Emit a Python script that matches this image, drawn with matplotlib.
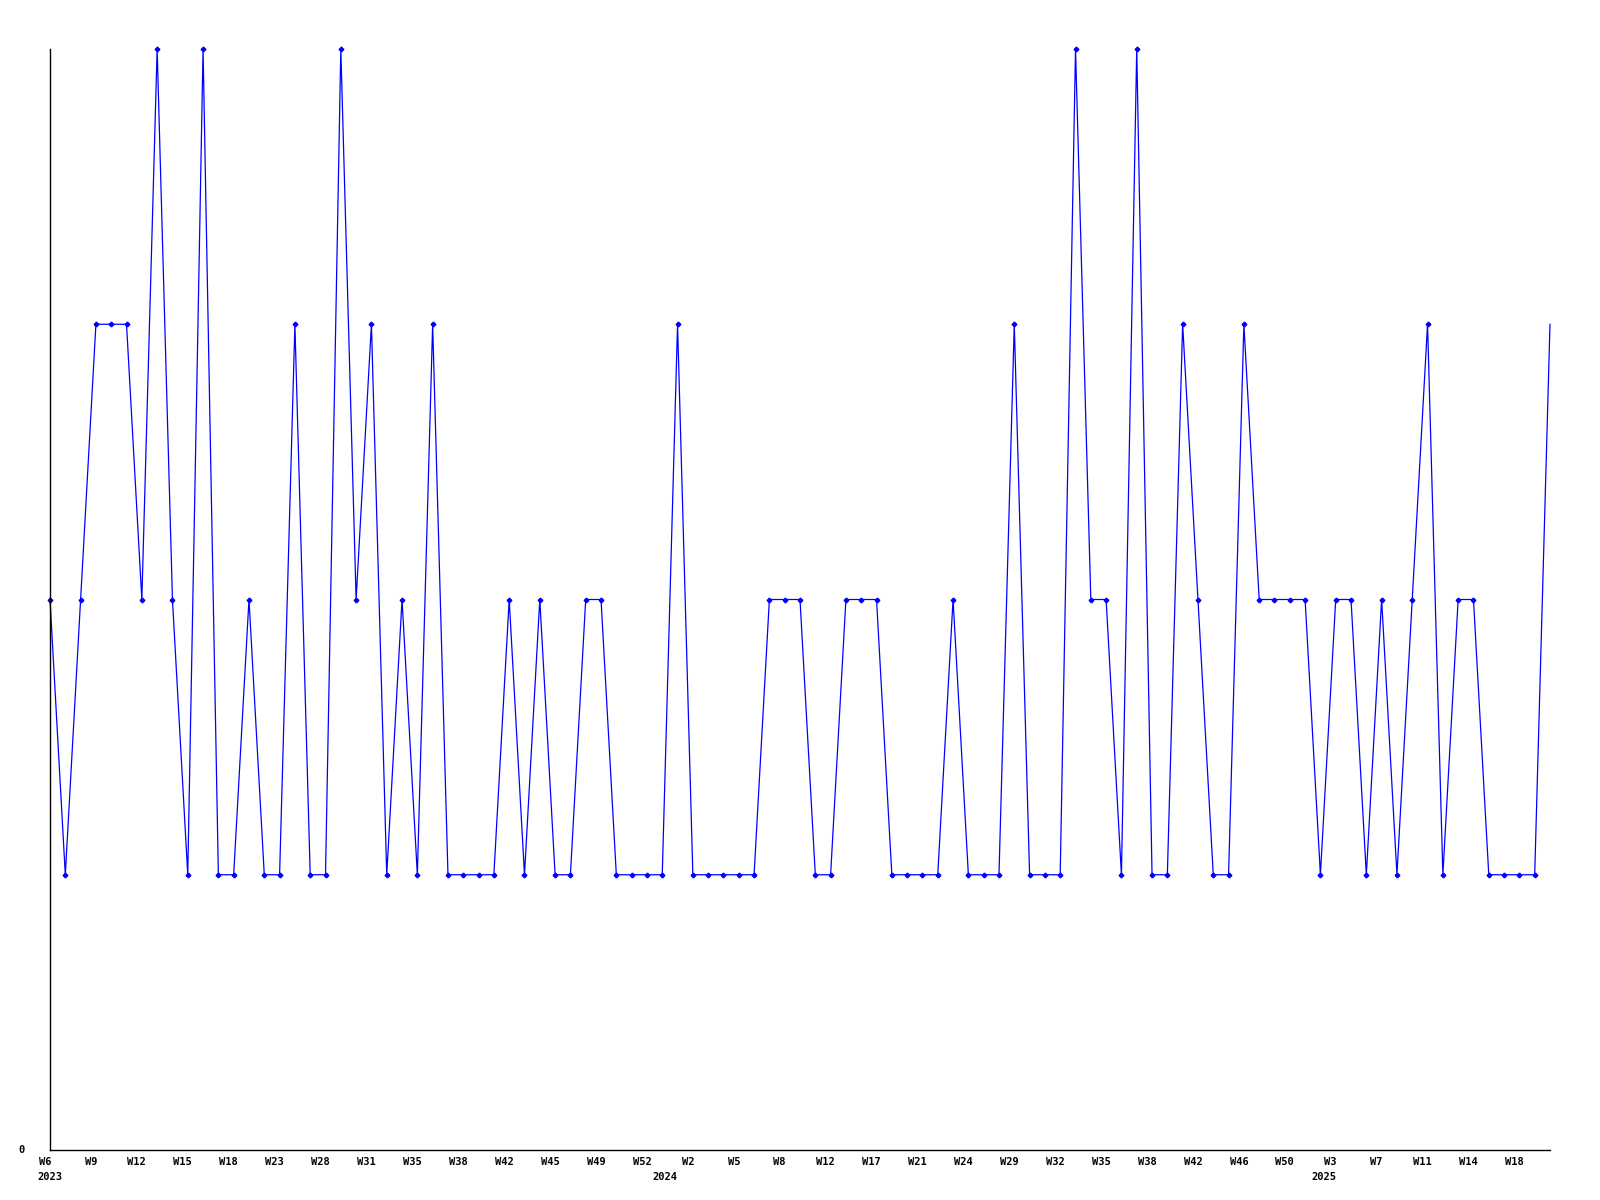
import numpy as np
import matplotlib
matplotlib.use("Agg")
import matplotlib.pyplot as plt

# Data: one value per recorded week (categorical x positions)
values = [2, 1, 2, 3, 3, 3, 2, 4, 2, 1,
          4, 1, 1, 2, 1, 1, 3, 1, 1, 4,
          2, 3, 1, 2, 1, 3, 1, 1, 1, 1,
          2, 1, 2, 1, 1, 2, 2, 1, 1, 1,
          1, 3, 1, 1, 1, 1, 1, 2, 2, 2,
          1, 1, 2, 2, 2, 1, 1, 1, 1, 2,
          1, 1, 1, 3, 1, 1, 1, 4, 2, 2,
          1, 4, 1, 1, 3, 2, 1, 1, 3, 2,
          2, 2, 2, 1, 2, 2, 1, 2, 1, 2,
          3, 1, 2, 2, 1, 1, 1, 1, 3]

# Week labels shown on every third point
week_labels = ["W6", "W9", "W12", "W15", "W18", "W23", "W28", "W31", "W35",
               "W38", "W42", "W45", "W49", "W52", "W2", "W5", "W8", "W12",
               "W17", "W21", "W24", "W29", "W32", "W35", "W38", "W42", "W46",
               "W50", "W3", "W7", "W11", "W14", "W18"]
label_step = 3

# Year labels and the point where each year starts
years = ["2023", "2024", "2025"]
year_start = [0, 40, 83]

fig = plt.figure(figsize=(16, 12), dpi=100)
ax = fig.add_axes([50/1600, 1 - 1150/1200, 1500/1600, (1150 - 49)/1200])

x = np.arange(len(values))
ax.plot(x, values, color="#0000ff", linewidth=0.9, marker="P", markersize=3,
        markevery=list(range(len(values) - 1)), clip_on=False)

ax.set_xlim(0, len(values) - 1)
ax.set_ylim(0, 4)

for side in ["top", "right"]:
    ax.spines[side].set_visible(False)
for side in ["left", "bottom"]:
    ax.spines[side].set_linewidth(1)
    ax.spines[side].set_color("black")

ax.set_xticks([])
ax.set_yticks([])

font = dict(family="DejaVu Sans Mono", weight="bold", size=7.5, color="black")

for i, lab in enumerate(week_labels):
    ax.annotate(lab, xy=(i * label_step, 0), xycoords=("data", "axes fraction"),
                xytext=(-5, -12), textcoords="offset pixels",
                ha="center", va="center", annotation_clip=False, **font)

for k, (yr, pos) in enumerate(zip(years, year_start)):
    dx = 0 if k == 0 else 3
    ax.annotate(yr, xy=(pos, 0), xycoords=("data", "axes fraction"),
                xytext=(dx, -27), textcoords="offset pixels",
                ha="center", va="center", annotation_clip=False, **font)

ax.annotate("0", xy=(0, 0), xycoords="axes fraction",
            xytext=(-25, 0), textcoords="offset pixels",
            ha="right", va="center", annotation_clip=False, **font)

fig.savefig("out.png", dpi=100, facecolor="white")
